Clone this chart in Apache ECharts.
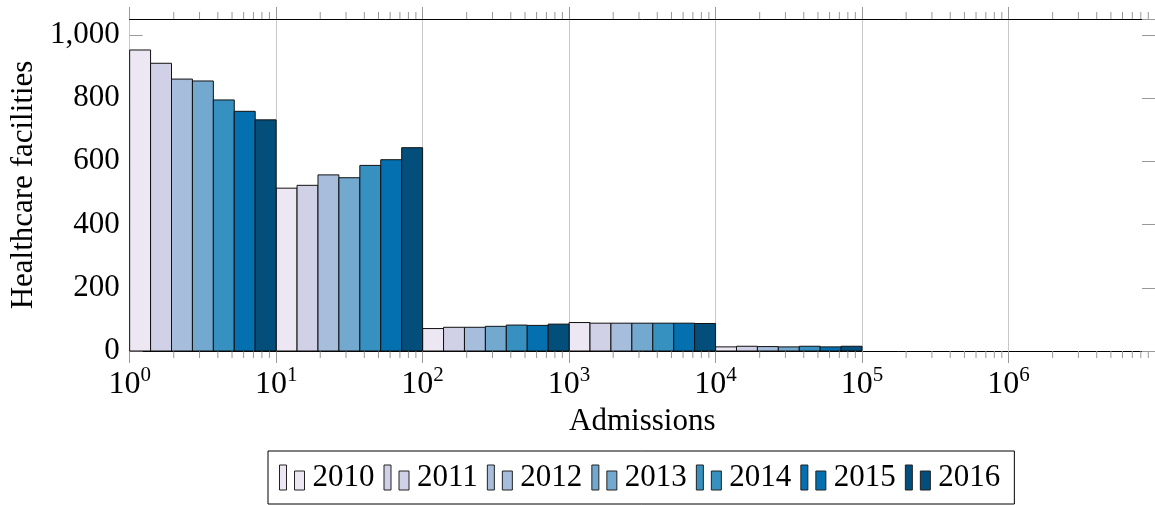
<!DOCTYPE html>
<html>
<head>
<meta charset="utf-8">
<script src="https://cdn.jsdelivr.net/npm/echarts@6/dist/echarts.min.js"></script>
<style>
  html, body { margin: 0; padding: 0; background: #fff; }
  #chart { width: 1155px; height: 505px; }
</style>
</head>
<body>
<div id="chart"></div>
<script>
// lower bound of each admissions decade
var decades = [1, 10, 100, 1000, 10000];
var years = ['2010', '2011', '2012', '2013', '2014', '2015', '2016'];
var colors = ['#ece7f2', '#d0d1e6', '#a6bddb', '#74a9cf', '#3690c0', '#0570b0', '#034e7b'];

// facilities per decade, one array per year
var v2010 = [952, 515, 71, 90, 13];
var v2011 = [910, 524, 75, 88, 15];
var v2012 = [860, 557, 75, 88, 14];
var v2013 = [854, 548, 78, 88, 13];
var v2014 = [794, 587, 82, 88, 15];
var v2015 = [758, 605, 81, 88, 13];
var v2016 = [731, 643, 85, 87, 15];
var values = [v2010, v2011, v2012, v2013, v2014, v2015, v2016];

var yMax = 1050;
var font = 'Liberation Serif';

var myChart = echarts.init(document.getElementById('chart'));

var series = [];
for (var i = 0; i < years.length; i++) {
    var data = [];
    for (var d = 0; d < decades.length; d++) {
        var lo = Math.log10(decades[d]);
        data.push([Math.pow(10, lo + i / 7), Math.pow(10, lo + (i + 1) / 7), values[i][d]]);
    }
    (function (col) {
        series.push({
            name: years[i],
            type: 'custom',
            xAxisIndex: 0,
            yAxisIndex: 0,
            encode: { x: [0, 1], y: 2 },
            itemStyle: { color: col, borderColor: '#000', borderWidth: 1 },
            z: 3,
            renderItem: function (params, api) {
                var p0 = api.coord([api.value(0), api.value(2)]);
                var p1 = api.coord([api.value(1), 0]);
                return {
                    type: 'rect',
                    shape: { x: p0[0], y: p0[1], width: p1[0] - p0[0], height: p1[1] - p0[1] },
                    style: { fill: col, stroke: '#111', lineWidth: 1 }
                };
            },
            data: data
        });
    })(colors[i]);
}

// minor log ticks (2..9 x 10^n) on top and bottom
var minor = [];
for (var e = 0; e < 7; e++) {
    for (var k = 2; k <= 9; k++) minor.push([k * Math.pow(10, e)]);
}
series.push({
    type: 'custom',
    silent: true,
    clip: false,
    encode: { x: 0 },
    z: 1,
    renderItem: function (params, api) {
        var b = api.coord([api.value(0), 0]);
        var t = api.coord([api.value(0), yMax]);
        return {
            type: 'group',
            children: [
                { type: 'line', shape: { x1: b[0], y1: b[1], x2: b[0], y2: b[1] + 7 }, style: { stroke: '#999', lineWidth: 1 } },
                { type: 'line', shape: { x1: t[0], y1: t[1], x2: t[0], y2: t[1] - 7 }, style: { stroke: '#999', lineWidth: 1 } }
            ]
        };
    },
    data: minor
});

var option = {
    animation: false,
    textStyle: { fontFamily: font, color: '#000' },
    grid: { left: 128, top: 19, width: 1029, height: 332 },
    legend: {
        data: years,
        left: 268,
        top: 451,
        padding: [11, 14, 11, 11],
        itemGap: 9,
        itemWidth: 25,
        itemHeight: 25,
        icon: 'path://M0,0H7V25H0Z M15,6H25V25H15Z',
        itemStyle: { borderColor: '#222', borderWidth: 1 },
        borderColor: '#000',
        borderWidth: 1,
        textStyle: { fontFamily: font, fontSize: 31, lineHeight: 28, color: '#000', padding: [0, 0, 0, 3] }
    },
    xAxis: [{
        type: 'log',
        logBase: 10,
        min: 1,
        max: 1e7,
        splitNumber: 7,
        position: 'bottom',
        name: 'Admissions',
        nameLocation: 'middle',
        nameGap: 52,
        nameTextStyle: { fontFamily: font, fontSize: 31, color: '#000' },
        axisLine: { show: true, onZero: false, lineStyle: { color: '#000', width: 1 } },
        axisTick: { show: true, length: 12, lineStyle: { color: '#999' } },
        splitLine: { show: true, lineStyle: { color: '#c8c8c8', width: 1 } },
        axisLabel: {
            showMaxLabel: false,
            margin: 14,
            formatter: function (v) {
                return '{b|10}{s|' + Math.round(Math.log10(v)) + '}';
            },
            rich: {
                b: { fontFamily: font, fontSize: 32, color: '#000', verticalAlign: 'bottom', lineHeight: 36 },
                s: { fontFamily: font, fontSize: 21, color: '#000', verticalAlign: 'top', lineHeight: 36, padding: [0, 0, 14, 0] }
            }
        }
    }, {
        type: 'log',
        logBase: 10,
        min: 1,
        max: 1e7,
        splitNumber: 7,
        position: 'top',
        axisLine: { show: true, onZero: false, lineStyle: { color: '#000', width: 1 } },
        axisTick: { show: true, length: 12, lineStyle: { color: '#999' } },
        splitLine: { show: false },
        axisLabel: { show: false }
    }],
    yAxis: [{
        type: 'value',
        min: 0,
        max: yMax,
        interval: 200,
        name: 'Healthcare facilities',
        nameLocation: 'middle',
        nameGap: 84,
        nameTextStyle: { fontFamily: font, fontSize: 31, color: '#000' },
        axisLine: { show: false, onZero: false },
        axisTick: { show: true, inside: true, length: 13, lineStyle: { color: '#999' } },
        splitLine: { show: false },
        axisLabel: {
            fontFamily: font,
            fontSize: 31,
            color: '#000',
            margin: 10,
            showMaxLabel: false,
            formatter: function (v) {
                return v > 1000 ? '' : v.toLocaleString('en-US');
            }
        }
    }, {
        type: 'value',
        min: 0,
        max: yMax,
        interval: 200,
        position: 'right',
        axisLine: { show: false, onZero: false },
        axisTick: { show: true, inside: true, length: 13, lineStyle: { color: '#999' } },
        splitLine: { show: false },
        axisLabel: { show: false }
    }],
    series: series
};

if (option && typeof option === 'object') {
    myChart.setOption(option);
}
</script>
</body>
</html>
